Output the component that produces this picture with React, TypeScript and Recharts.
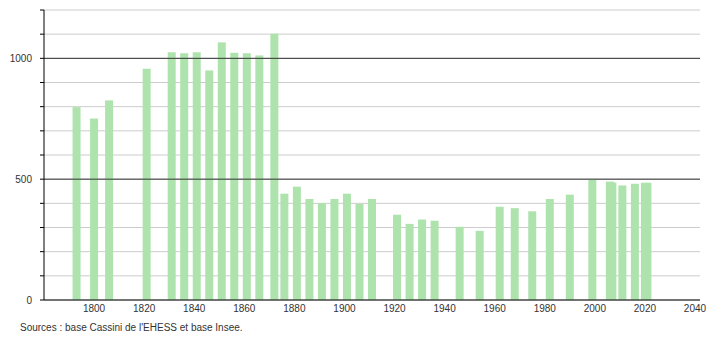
import { BarChart, Bar, XAxis, YAxis, CartesianGrid, ReferenceLine } from 'recharts'

const years = [
  1793, 1800, 1806, 1821, 1831, 1836, 1841, 1846, 1851, 1856, 1861, 1866, 1872,
  1876, 1881, 1886, 1891, 1896, 1901, 1906, 1911, 1921, 1926, 1931, 1936, 1946,
  1954, 1962, 1968, 1975, 1982, 1990, 1999, 2006, 2007, 2011, 2016, 2020, 2021,
]
const population = [
  798, 751, 826, 957, 1025, 1021, 1025, 950, 1066, 1023, 1021, 1012, 1102,
  440, 469, 418, 401, 418, 440, 398, 418, 353, 315, 333, 328, 303,
  286, 386, 380, 367, 418, 436, 498, 490, 486, 474, 481, 485, 485,
]
const xTicks = [1800, 1820, 1840, 1860, 1880, 1900, 1920, 1940, 1960, 1980, 2000, 2020, 2040]
const yTicks = [0, 100, 200, 300, 400, 500, 600, 700, 800, 900, 1000, 1100, 1200]
const yLabels = [0, 500, 1000]

const data = years.map((year, i) => ({ year, pop: population[i] }))

const font = '"Liberation Sans", Arial, sans-serif'
const tickStyle = { fill: '#333', fontSize: 10, fontFamily: font }
const BAR_W = 8

// recharts shrinks bars to the smallest year gap (2006/2007), so draw fixed-width bars centred on the year
function YearBar(props: any) {
  const { x, y, width, height } = props
  if (height == null || height <= 0) return null
  return <rect x={x + width / 2 - BAR_W / 2} y={y} width={BAR_W} height={height} fill="#aee3ae" />
}

export default function App() {
  return (
    <div style={{ position: 'absolute', left: 0, top: 0, width: 710, height: 340, background: '#fff' }}>
      <BarChart width={710} height={340} data={data} margin={{ top: 10, right: 10, bottom: 0, left: 0 }}>
        <CartesianGrid vertical={false} stroke="#cccccc" />
        <XAxis
          dataKey="year"
          type="number"
          domain={[1780, 2042]}
          ticks={xTicks}
          tickLine={false}
          tickSize={0}
          tickMargin={5}
          height={40}
          axisLine={{ stroke: '#000' }}
          tick={tickStyle}
        />
        <YAxis
          domain={[0, 1200]}
          ticks={yTicks}
          width={44}
          tickSize={4}
          tickMargin={8}
          axisLine={{ stroke: '#000' }}
          tickLine={{ stroke: '#000' }}
          tick={tickStyle}
          tickFormatter={(v: number) => (yLabels.includes(v) ? String(v) : '')}
        />
        <ReferenceLine y={500} stroke="#333" />
        <ReferenceLine y={1000} stroke="#333" />
        <Bar dataKey="pop" fill="#aee3ae" shape={YearBar} isAnimationActive={false} />
      </BarChart>
      <div
        style={{
          position: 'absolute', left: 20, top: 322, fontFamily: font,
          fontSize: 10, color: '#333', whiteSpace: 'nowrap',
        }}
      >
        Sources : base Cassini de l'EHESS et base Insee.
      </div>
    </div>
  )
}
